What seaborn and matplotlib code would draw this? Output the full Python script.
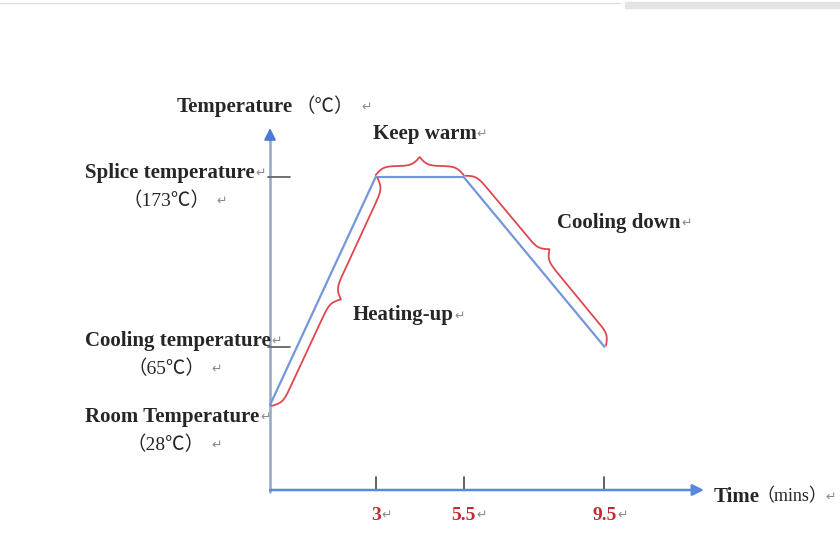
import numpy as np
import matplotlib.pyplot as plt
import seaborn as sns
from matplotlib.patches import Rectangle

# profile values
time_min = [0, 3, 5.5, 9.5]
temp_c = [28, 173, 173, 65]

level_names = ["Splice temperature", "Cooling temperature", "Room Temperature"]
level_values = [173, 65, 28]
level_texts = ["（173℃）", "（65℃）", "（28℃）"]

x_ticks = [3, 5.5, 9.5]
x_tick_labels = ["3", "5.5", "9.5"]

phase_names = ["Heating-up", "Keep warm", "Cooling down"]

sns.set_theme(style="white")
plt.rcParams["font.family"] = ["Liberation Serif", "Noto Sans CJK SC", "DejaVu Sans"]

W, H = 840, 560
fig = plt.figure(figsize=(8.4, 5.6), dpi=100)
fig.patch.set_facecolor("white")
ax = fig.add_axes([0, 0, 1, 1])
ax.set_xlim(-7.67, 16.19)
ax.set_ylim(-70.6, 285.6)
ax.axis("off")

LBL = 15     # bold label size
VAL = 14     # regular value size


def to_data(px, py):
    # pixel position (top-left origin) -> data
    return ax.transData.inverted().transform((px, H - py))


PIL = dict(fontsize=9, color="#8a8a8a", fontweight="normal")


def pilcrow(artist, gap=4):
    return ax.annotate("↵", xy=(1, 0.45), xycoords=artist, xytext=(gap, 0),
                       textcoords="offset pixels", ha="left", va="center", **PIL)


def follow(artist, s, gap=2, **kw):
    return ax.annotate(s, xy=(1, 0.5), xycoords=artist, xytext=(gap, 0),
                       textcoords="offset pixels", ha="left", va="center", **kw)


# axes with arrows
x0 = 0
y0 = to_data(0, 490)[1]
y_tip = to_data(0, 128)[1]
x_tip = to_data(704, 0)[0]
ax.plot([x0, x0], [to_data(0, 492)[1], to_data(0, 138)[1]], color="#93a6c6", lw=1.8)
ax.annotate("", xy=(x0, y_tip), xytext=(x0, to_data(0, 140)[1]),
            arrowprops=dict(arrowstyle="-|>", color="#4a78d4", lw=1.5,
                            mutation_scale=17, shrinkA=0, shrinkB=0))
ax.annotate("", xy=(x_tip, y0), xytext=(x0, y0),
            arrowprops=dict(arrowstyle="-|>", color="#5a88dc", lw=1.8,
                            mutation_scale=17, shrinkA=0, shrinkB=0))

# temperature profile
sns.lineplot(x=time_min, y=temp_c, color="#7397da", lw=1.6, ax=ax)

# x ticks and labels
tick_h = to_data(0, 477)[1] - y0
for t, lbl in zip(x_ticks, x_tick_labels):
    ax.plot([t, t], [y0, y0 + tick_h], color="#555555", lw=1.3)
    a = ax.annotate(lbl, (t, y0), xytext=(0, -25), textcoords="offset pixels",
                    ha="center", va="center", color="#c42a30",
                    fontweight="bold", fontsize=14)
    pilcrow(a, gap=1)

# y ticks and level labels
tick_l, tick_r = to_data(268, 0)[0], to_data(290, 0)[0]
name_x = to_data(85, 0)[0]
value_x = to_data(166, 0)[0]
name_dy = {173: -4, 65: -6, 28: 12}
for name, v, vt in zip(level_names, level_values, level_texts):
    if v != 28:
        ax.plot([tick_l, tick_r], [v, v], color="#666666", lw=1.3)
    a = ax.annotate(name, (name_x, v), xytext=(0, -name_dy[v]), textcoords="offset pixels",
                    ha="left", va="center", fontweight="bold", fontsize=LBL)
    pilcrow(a, gap=1)
    b = ax.annotate(vt, (value_x, v), xytext=(0, -name_dy[v] - 28), textcoords="offset pixels",
                    ha="center", va="center", fontsize=VAL)
    pilcrow(b, gap=6)

# axis titles
tx, ty = to_data(177, 107)
a = ax.text(tx, ty, "Temperature", ha="left", va="center", fontweight="bold", fontsize=LBL)
b = follow(a, "（℃）", gap=2, fontsize=VAL)
pilcrow(b, gap=8)

tx, ty = to_data(714, 497)
a = ax.text(tx, ty, "Time", ha="left", va="center", fontweight="bold", fontsize=LBL)
b = follow(a, "（mins）", gap=-4, fontsize=13)
pilcrow(b, gap=-1)


# braces around each phase
def brace(p0, p1, depth=18, b=0.26, n=200):
    p0, p1 = np.asarray(p0, float), np.asarray(p1, float)
    L = np.hypot(*(p1 - p0))
    t = (p1 - p0) / L
    nrm = np.array([-t[1], t[0]])
    u = np.linspace(0, L / 2, n)
    sig = lambda z: 1 / (1 + np.exp(-z))
    v = depth * (sig(b * u) + sig(b * (u - L / 2))) - depth / 2 + 2
    uu = np.concatenate([u, L - u[::-1]])
    vv = np.concatenate([v, v[::-1]])
    pts = p0 + np.outer(uu, t) + np.outer(vv, nrm)
    cusp = p0 + t * L / 2 + nrm * (depth + 2)
    return pts, cusp


disp = [ax.transData.transform((x, y)) for x, y in zip(time_min, temp_c)]
segments = [(disp[1], disp[0]), (disp[1], disp[2]), (disp[2], disp[3])]
label_off = [(12, -16, "left"), (5, 23, "center"), (8, 26, "left")]
for (p0, p1), name, (ox, oy, ha) in zip(segments, phase_names, label_off):
    pts, cusp = brace(p0, p1)
    dpts = ax.transData.inverted().transform(pts)
    ax.plot(dpts[:, 0], dpts[:, 1], color="#e0474f", lw=1.3)
    cx, cy = ax.transData.inverted().transform(cusp)
    a = ax.annotate(name, (cx, cy), xytext=(ox, oy), textcoords="offset pixels",
                    ha=ha, va="center", fontweight="bold", fontsize=LBL)
    pilcrow(a, gap=0)

# screenshot chrome at the top
fig.patches.append(Rectangle((625 / W, 1 - 8 / H), 215 / W, 6 / H,
                             transform=fig.transFigure, color="#e4e4e4", zorder=0))
fig.lines.append(plt.Line2D([0, 620 / W], [1 - 3 / H, 1 - 3 / H],
                            transform=fig.transFigure, color="#dddddd", lw=1))

fig.savefig("out.png", dpi=100, facecolor="white")
